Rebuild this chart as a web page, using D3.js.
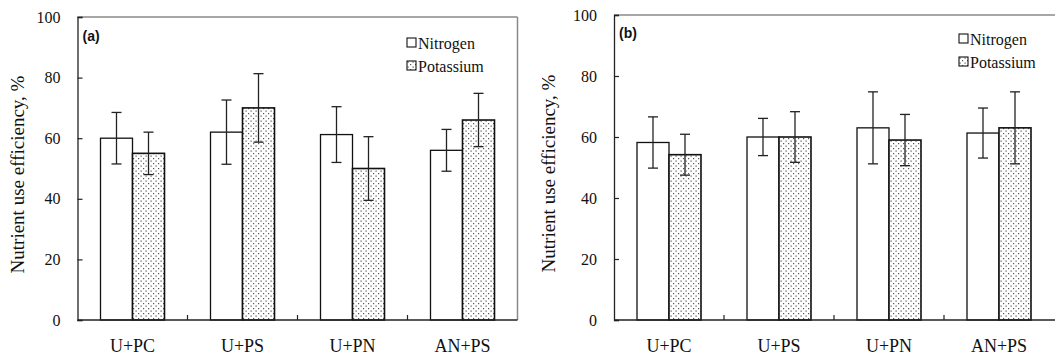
<!DOCTYPE html>
<html>
<head>
<meta charset="utf-8">
<script src="https://d3js.org/d3.v7.min.js"></script>
<style>
  html, body { margin: 0; padding: 0; background: #fff; }
  svg { display: block; }
</style>
</head>
<body>
<script>
var categories = ['U+PC', 'U+PS', 'U+PN', 'AN+PS'];
var seriesNames = ['Nitrogen', 'Potassium'];
var yTicks = [0, 20, 40, 60, 80, 100];

// panel (a)
var aNitrogen = [60, 62, 61.2, 56];
var aNitrogenErr = [8.5, 10.6, 9.2, 6.9];
var aPotassium = [55, 70, 50, 66];
var aPotassiumErr = [7, 11.3, 10.5, 8.8];

// panel (b)
var bNitrogen = [58.2, 60, 63, 61.3];
var bNitrogenErr = [8.4, 6.1, 11.8, 8.2];
var bPotassium = [54.2, 60, 59, 63];
var bPotassiumErr = [6.7, 8.3, 8.4, 11.8];

var width = 1055;
var height = 361;
var serif = '"Liberation Serif", "Times New Roman", serif';

var svg = d3.select('body').append('svg')
  .attr('width', width)
  .attr('height', height)
  .attr('font-family', serif);

// stipple fill for potassium bars
var pat = svg.append('defs').append('pattern')
  .attr('id', 'dots')
  .attr('patternUnits', 'userSpaceOnUse')
  .attr('width', 5)
  .attr('height', 5);
pat.append('rect').attr('width', 5).attr('height', 5).attr('fill', '#fff');
pat.append('rect').attr('x', 0.5).attr('y', 0.5).attr('width', 1.2).attr('height', 1.2).attr('fill', '#555');
pat.append('rect').attr('x', 3).attr('y', 3).attr('width', 1.2).attr('height', 1.2).attr('fill', '#555');

function drawPanel(opt) {
  var left = opt.left, top = opt.top, w = opt.w, bottom = 320;

  var x = d3.scaleBand().domain(categories).range([left, left + w]);
  var y = d3.scaleLinear().domain([0, 100]).range([bottom, top]);
  var barW = 32;

  var g = svg.append('g');

  // frame (top / right in grey)
  g.append('line')
    .attr('x1', left).attr('x2', opt.frameRight)
    .attr('y1', top).attr('y2', top)
    .attr('stroke', '#8a8a8a').attr('stroke-width', 1.5);
  if (opt.drawRight) {
    g.append('line')
      .attr('x1', left + w).attr('x2', left + w)
      .attr('y1', top).attr('y2', bottom)
      .attr('stroke', '#8a8a8a').attr('stroke-width', 1.5);
  }

  // y axis with inward ticks
  var yAxis = d3.axisRight(y).tickValues(yTicks).tickSize(5).tickFormat('');
  var ya = g.append('g').attr('transform', 'translate(' + left + ',0)').call(yAxis);
  ya.select('.domain').attr('stroke', '#222').attr('stroke-width', 1.3);
  ya.selectAll('.tick line').attr('stroke', '#222').attr('stroke-width', 1.2);

  g.selectAll('.ylab').data(yTicks).enter().append('text')
    .attr('x', left - 17)
    .attr('y', function (d) { return y(d); })
    .attr('dy', '0.35em')
    .attr('text-anchor', 'end')
    .attr('font-family', serif)
    .attr('font-size', 16)
    .attr('fill', '#111')
    .text(function (d) { return d; });

  // bars
  var series = [
    { name: 'Nitrogen', vals: opt.n, errs: opt.nErr, fill: '#fff', off: -barW },
    { name: 'Potassium', vals: opt.k, errs: opt.kErr, fill: 'url(#dots)', off: 0 }
  ];

  series.forEach(function (s) {
    var cx = function (i) { return x(categories[i]) + x.bandwidth() / 2 + s.off; };
    g.selectAll(null).data(s.vals).enter().append('rect')
      .attr('x', function (d, i) { return cx(i); })
      .attr('y', function (d) { return y(d); })
      .attr('width', barW)
      .attr('height', function (d) { return y(0) - y(d); })
      .attr('fill', s.fill)
      .attr('stroke', '#111')
      .attr('stroke-width', s.name === 'Potassium' ? 1.6 : 1.3);

    // error bars
    var eg = g.selectAll(null).data(s.vals).enter().append('g')
      .attr('stroke', '#222').attr('stroke-width', 1.3);
    eg.append('line')
      .attr('x1', function (d, i) { return cx(i) + barW / 2; })
      .attr('x2', function (d, i) { return cx(i) + barW / 2; })
      .attr('y1', function (d, i) { return y(d + s.errs[i]); })
      .attr('y2', function (d, i) { return y(d - s.errs[i]); });
    [1, -1].forEach(function (sign) {
      eg.append('line')
        .attr('x1', function (d, i) { return cx(i) + barW / 2 - 5; })
        .attr('x2', function (d, i) { return cx(i) + barW / 2 + 5; })
        .attr('y1', function (d, i) { return y(d + sign * s.errs[i]); })
        .attr('y2', function (d, i) { return y(d + sign * s.errs[i]); });
    });
  });

  // x axis baseline and upward ticks at category boundaries
  g.append('line')
    .attr('x1', left).attr('x2', opt.frameRight)
    .attr('y1', bottom).attr('y2', bottom)
    .attr('stroke', '#222').attr('stroke-width', 1.3);
  g.selectAll(null).data(categories.slice(1)).enter().append('line')
    .attr('x1', function (d) { return x(d); })
    .attr('x2', function (d) { return x(d); })
    .attr('y1', bottom).attr('y2', bottom - 5)
    .attr('stroke', '#222').attr('stroke-width', 1.2);

  g.selectAll(null).data(categories).enter().append('text')
    .attr('x', function (d) { return x(d) + x.bandwidth() / 2; })
    .attr('y', 352)
    .attr('text-anchor', 'middle')
    .attr('font-family', serif)
    .attr('font-size', 18)
    .attr('fill', '#111')
    .text(function (d) { return d; });

  // y title
  g.append('text')
    .attr('transform', 'translate(' + opt.titleX + ',' + ((top + bottom) / 2 + 6) + ') rotate(-90)')
    .attr('text-anchor', 'middle')
    .attr('font-family', serif)
    .attr('font-size', 19)
    .attr('fill', '#111')
    .text('Nutrient use efficiency, %');

  // panel tag
  g.append('text')
    .attr('x', left + 5)
    .attr('y', opt.tagY)
    .attr('font-family', '"Liberation Sans", Arial, sans-serif')
    .attr('font-weight', 'bold')
    .attr('font-size', 14)
    .attr('fill', '#111')
    .text(opt.tag);

  // legend
  var lg = g.selectAll(null).data(seriesNames).enter().append('g')
    .attr('transform', function (d, i) {
      return 'translate(' + opt.legX + ',' + (opt.legY + i * 23) + ')';
    });
  lg.append('rect')
    .attr('x', 0).attr('y', -5)
    .attr('width', 9).attr('height', 9)
    .attr('fill', function (d, i) { return i ? 'url(#dots)' : '#fff'; })
    .attr('stroke', '#111').attr('stroke-width', 1.1);
  lg.append('text')
    .attr('x', 11)
    .attr('dy', '0.35em')
    .attr('font-family', serif)
    .attr('font-size', 16)
    .attr('fill', '#111')
    .text(function (d) { return d; });
}

drawPanel({
  left: 77.5, top: 17, w: 440, frameRight: 517.5, drawRight: true,
  n: aNitrogen, nErr: aNitrogenErr, k: aPotassium, kErr: aPotassiumErr,
  titleX: 24, tag: '(a)', tagY: 41, legX: 407, legY: 43
});

drawPanel({
  left: 614, top: 15, w: 440, frameRight: 1055, drawRight: false,
  n: bNitrogen, nErr: bNitrogenErr, k: bPotassium, kErr: bPotassiumErr,
  titleX: 555, tag: '(b)', tagY: 38, legX: 959, legY: 39
});
</script>
</body>
</html>
